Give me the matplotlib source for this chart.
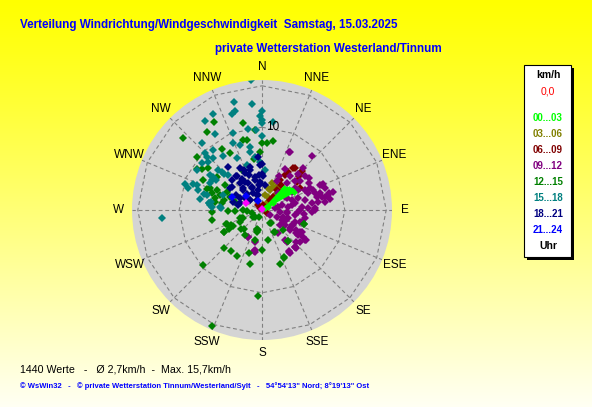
import numpy as np
import matplotlib
matplotlib.use("Agg")
import matplotlib.pyplot as plt
from matplotlib.patches import Rectangle

# wind direction (deg, from N clockwise) and speed (km/h), grouped by hour of day
dir_00_03 = [55, 45, 56, 60, 52, 58, 60, 50, 62]
spd_00_03 = [0.6, 3.7, 4.3, 0.8, 4.2, 1.5, 4.4, 3.9, 0.4]

dir_03_06 = [21.8, 25.9, 31.5, 25.4, 44, 35, 41, 42, 11, 20, 36, 15]
spd_03_06 = [2.6, 3.1, 3.4, 1.8, 1.7, 1.0, 2.4, 3.2, 1.9, 3.5, 3.3, 2.8]

dir_06_09 = [36.9, 46, 47.5, 50.8, 34.5, 33.3, 31, 38.2, 36.3, 40.3, 38.7, 310,
             319, 125, 46, 38.4, 50.4, 60.3, 15]
spd_06_09 = [6.3, 6.4, 6.0, 5.4, 5.6, 5.1, 4.2, 3.8, 3.0, 2.1, 1.5, 0.3,
             0.8, 0.7, 6.7, 6.4, 5.7, 5.3, 0.6]

dir_09_12 = [25.5, 42.6, 26.6, 39.5, 51.7, 52.4, 67.3, 73.4, 75.4, 75.6, 81, 82.5,
             90, 76.9, 82.3, 72.2, 71.4, 82.8, 75.8, 82.7, 98.6, 107.5, 107, 100.9,
             123, 116.8, 120, 118.6, 124.6, 130, 114.5, 122, 138, 147, 44.7, 44.7,
             28.9, 72.5, 70.2, 78, 190, 79, 97.6, 90, 88, 122, 115.6, 119.7,
             124, 192.5, 146.8, 25.6, 56.2, 67.3, 77.3, 207, 189.5, 142,
             44, 60, 78.5, 85, 88, 95, 94, 92.7, 106.4, 109.5, 125.5, 122.9,
             124.9, 129.8, 76.3, 77.5, 68.7, 65, 56.7, 42.8, 27.5, 49.4, 60, 117,
             145, 142.5, 137.8, 206.6, 192.7, 191, 138.5, 147,
             59, 61, 65.4, 82, 92, 95.4, 80.5, 64, 107.5, 122.7, 112.6, 124,
             133, 66.7, 70.8]
spd_09_12 = [7.7, 8.9, 4.6, 5.3, 6.6, 5.8, 8.0, 7.3, 8.3, 8.9, 8.3, 7.7,
             6.4, 5.3, 6.1, 4.6, 3.8, 3.2, 2.5, 1.6, 4.0, 3.3, 2.7, 5.3,
             3.3, 4.0, 4.8, 5.5, 5.3, 2.8, 2.0, 1.1, 6.0, 6.2, 6.2, 7.1,
             5.7, 6.7, 5.9, 7.8, 4.9, 2.0, 3.0, 4.6, 6.4, 3.0, 4.2, 5.3,
             5.0, 3.9, 6.0, 7.8, 6.9, 7.8, 8.2, 3.6, 5.1, 4.9,
             2.8, 3.2, 4.1, 4.8, 5.6, 2.2, 3.0, 4.4, 5.0, 4.2, 4.2, 5.9,
             6.3, 6.0, 6.8, 7.4, 6.6, 5.7, 4.8, 4.4, 3.9, 5.3, 6.5, 2.7,
             3.4, 4.6, 6.2, 3.7, 3.8, 5.0, 6.0, 5.9,
             4.2, 5.0, 6.4, 6.8, 6.0, 5.1, 3.7, 3.3, 4.8, 4.0, 3.1, 6.4,
             5.6, 7.6, 8.1]

dir_12_15 = [312.7, 324.9, 331.5, 347.8, 355, 9.3, 4.5, 351, 345, 348, 0, 326.4,
             309.2, 301.9, 304.2, 330.6, 306.3, 297, 333, 358,
             293.8, 289.7, 284.5, 280, 297.4, 292.6, 304, 288.4, 290.5, 279.4, 287,
             267.4, 258.6, 268, 268, 251, 246, 232, 200, 248, 241.4, 239.4, 239.4,
             227, 194, 192, 224.5, 217.4, 209, 196.3, 193, 226.9, 182.5, 203.4,
             146.8, 149.8, 139.7, 155.2, 161.7, 108.7, 270, 268, 249, 244, 248, 242,
             224, 195, 252, 226, 239.6, 148, 150, 133, 139.4, 108.3, 192, 193, 154.8,
             307.8, 292.7, 284, 180, 169, 214]
spd_12_15 = [12.9, 11.5, 12.1, 10.7, 9.7, 8.5, 8.1, 6.2, 8.8, 8.6, 8.1, 8.8,
             10.2, 9.3, 8.8, 7.9, 6.8, 8.0, 5.4, 7.0,
             6.0, 5.4, 4.8, 5.8, 4.8, 4.2, 5.4, 6.4, 7.1, 4.9, 3.4,
             6.1, 6.1, 4.1, 3.3, 2.8, 2.5, 1.4, 0.9, 4.6, 4.0, 4.6, 5.3,
             3.4, 2.4, 2.7, 6.5, 6.2, 6.3, 5.4, 6.7, 9.7, 10.4, 15.3,
             1.9, 3.1, 4.9, 6.4, 6.9, 5.4, 2.3, 1.8, 4.7, 4.1, 2.6, 3.0,
             3.2, 2.5, 1.3, 1.2, 5.3, 1.8, 3.0, 3.5, 4.9, 5.4, 2.5, 3.7, 6.3,
             8.2, 6.8, 5.9, 4.8, 3.7, 3.6]

dir_15_18 = [345.7, 354.8, 0, 359, 345, 342.4, 332.8, 327.4, 0, 328.3, 339.5, 350.4,
             355.7, 0, 318, 336.7, 320.9, 315, 312, 316.7, 324, 333.9, 349, 352.5,
             357.6, 4.3, 341, 313.5, 303.9, 288.7, 290.7, 265.4, 355, 286.4, 291, 287.4,
             279.8, 285.7, 277, 279.4, 297, 304.4, 274.5, 313.5, 316,
             0, 7, 348, 341, 314, 307.8, 312.5, 301, 277, 273.8, 285,
             301.5, 303.5, 291, 272.4, 275.5]
spd_15_18 = [13.5, 12.9, 12.0, 11.4, 12.4, 12.1, 13.0, 12.8, 10.5, 10.8, 9.9, 9.9,
             9.7, 8.9, 10.9, 8.8, 9.3, 9.8, 8.7, 8.6, 8.0, 7.0, 7.8, 6.5,
             5.8, 4.8, 5.7, 6.4, 7.6, 9.8, 8.9, 12.1, 15.7, 9.3, 8.4, 8.1,
             7.6, 7.3, 6.5, 6.2, 7.1, 7.1, 5.1, 6.7, 5.9,
             10.9, 10.7, 7.2, 8.3, 9.3, 9.2, 7.2, 7.1, 6.5, 6.1, 6.9,
             9.2, 6.6, 5.0, 4.9, 6.3]

dir_18_21 = [314.7, 322.8, 320.5, 319.2, 317.5, 336, 348, 356, 340.5, 309.8, 300.7, 286,
             287, 304, 335, 2, 322, 343.3, 323.3, 357.5, 0, 347, 329, 327,
             7, 0, 356, 355, 350, 332, 344.5, 333, 317, 332, 346, 310,
             298, 352, 356, 332, 305, 282, 335.6, 339.6, 335.8, 307.6]
spd_18_21 = [5.1, 5.1, 4.2, 3.5, 2.7, 3.1, 4.1, 3.4, 1.9, 1.9, 3.6, 3.6,
             2.8, 4.7, 4.9, 4.1, 6.6, 5.0, 5.1, 5.4, 4.4, 3.7, 4.0, 4.5,
             3.1, 5.6, 3.2, 4.2, 2.5, 5.7, 5.4, 3.6, 3.3, 2.3, 1.9, 1.9,
             3.0, 3.0, 6.4, 1.4, 2.5, 3.0, 2.9, 4.5, 5.3, 4.6]

dir_21_24 = [293.4, 310, 335]
spd_21_24 = [3.9, 2.6, 1.2]

dir_mean = [292.7, 0]
spd_mean = [2.1, 0.15]

hour_bins = ["00...03", "03...06", "06...09", "09...12",
             "12...15", "15...18", "18...21", "21...24"]
hour_colors = ["#00ff00", "#808000", "#800000", "#800080",
               "#008000", "#008080", "#000080", "#0000ff"]
compass = ["N", "NNE", "NE", "ENE", "E", "ESE", "SE", "SSE",
           "S", "SSW", "SW", "WSW", "W", "WNW", "NW", "NNW"]

W, H = 592, 407
rmax = 15.7

def fx(x):
    return x / W

def fy(y):
    return 1 - y / H

fig = plt.figure(figsize=(W / 100, H / 100), dpi=100)

# yellow background fading towards the bottom
bg = fig.add_axes([0, 0, 1, 1], zorder=-10)
grad = np.ones((H, 1, 3))
grad[:, 0, 2] = np.linspace(0, 0.96, H) ** 1.1
bg.imshow(grad, aspect="auto", extent=[0, 1, 0, 1])
bg.axis("off")

ax = fig.add_axes([fx(132), fy(340), 260 / W, 260 / H], projection="polar")
ax.set_theta_zero_location("N")
ax.set_theta_direction(-1)
ax.set_ylim(0, rmax)
ax.set_facecolor("#d4d4d4")
ax.grid(False)
ax.set_xticks([])
ax.set_yticks([])
ax.spines["polar"].set_visible(False)

angles = np.arange(16) * 22.5
dash = (0, (3.5, 2.5))
for a in angles:
    ax.plot([np.radians(a)] * 2, [0, rmax], color="#808080", lw=0.8, ls=dash, zorder=1)
ring_t = np.radians(np.append(angles, 360))
for r in [10, 15]:
    ax.plot(ring_t, [r] * len(ring_t), color="#808080", lw=0.8, ls=dash, zorder=1)

series = [(dir_00_03, spd_00_03), (dir_03_06, spd_03_06), (dir_06_09, spd_06_09),
          (dir_09_12, spd_09_12), (dir_12_15, spd_12_15), (dir_15_18, spd_15_18),
          (dir_18_21, spd_18_21), (dir_21_24, spd_21_24)]
for (d, s), c in list(zip(series, hour_colors))[1:]:
    ax.plot(np.radians(d), s, ls="none", marker="D", ms=3.8, mew=0, color=c, zorder=3)
ax.plot(np.radians(dir_00_03), spd_00_03, color=hour_colors[0], lw=1.8,
        marker="D", ms=3.4, mew=0, zorder=4)
ax.plot(np.radians(dir_mean), spd_mean, ls="none", marker="D", ms=3.8, mew=0,
        color="#ff00ff", zorder=5)

for a, lab in zip(angles, compass):
    ax.text(np.radians(a), 17.3, lab, ha="center", va="center", fontsize=8.5,
            family="Liberation Sans", clip_on=False)
ax.text(np.radians(7), 10.1, "10", ha="center", va="center", fontsize=8.5,
        family="Liberation Sans", zorder=6)

sans = "Liberation Sans"
fig.text(fx(20), fy(25), "Verteilung Windrichtung/Windgeschwindigkeit  Samstag, 15.03.2025",
         color="#0000ff", fontsize=8.4, fontweight="bold", family=sans, va="center")
fig.text(fx(215), fy(49), "private Wetterstation Westerland/Tinnum",
         color="#0000ff", fontsize=8.4, fontweight="bold", family=sans, va="center")
fig.text(fx(20), fy(369), "1440 Werte   -   Ø 2,7km/h  -  Max. 15,7km/h",
         color="black", fontsize=7.7, family=sans, va="center")
fig.text(fx(20), fy(386),
         "© WsWin32   -   © private Wetterstation Tinnum/Westerland/Sylt   -   "
         "54°54'13\" Nord; 8°19'13\" Ost",
         color="#0000ff", fontsize=5.5, fontweight="bold", family=sans, va="center")

# legend box with drop shadow
fig.patches.append(Rectangle((fx(527), fy(260)), 47 / W, 192 / H, transform=fig.transFigure,
                             facecolor="black", edgecolor="none", zorder=1))
fig.patches.append(Rectangle((fx(524), fy(257)), 47 / W, 192 / H, transform=fig.transFigure,
                             facecolor="white", edgecolor="black", lw=0.8, zorder=2))
lx = fx(548)
fig.text(lx, fy(75), "km/h", ha="center", va="center", fontsize=7.5, fontweight="bold",
         family=sans, zorder=3)
fig.text(lx, fy(92), "0,0", ha="center", va="center", fontsize=7.5, color="red",
         family=sans, zorder=3)
for i, (lab, c) in enumerate(zip(hour_bins, hour_colors)):
    fig.text(lx, fy(118 + 16 * i), lab, ha="center", va="center", fontsize=7,
             fontweight="bold", color=c, family=sans, zorder=3)
fig.text(lx, fy(246), "Uhr", ha="center", va="center", fontsize=7.5, fontweight="bold",
         family=sans, zorder=3)

fig.savefig("out.png", dpi=100)
